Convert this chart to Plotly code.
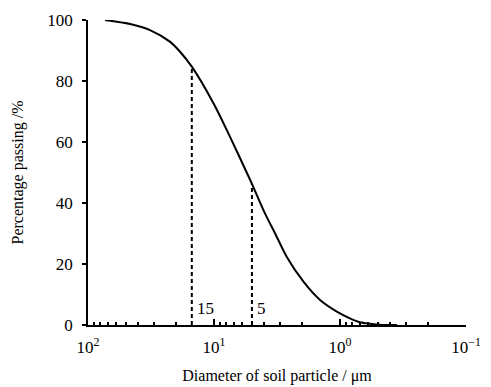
import numpy as np
import plotly.graph_objects as go

# Data
diameter_um = [73.3, 46.4, 32.2, 22.4, 18.6, 15.0, 10.1, 7.46, 5.5, 5.0, 3.94, 3.28, 2.65, 1.95, 1.44, 1.06, 0.834, 0.694, 0.578, 0.464, 0.353]
passing_pct = [100.0, 98.7, 96.7, 92.9, 89.6, 84.7, 72.7, 61.7, 50.0, 46.3, 36.6, 30.1, 22.4, 14.2, 8.2, 4.4, 2.2, 0.9, 0.4, 0.0, 0.0]

marker_d = [15, 5]
marker_p = [84.7, 46.3]
marker_labels = ["15", "5"]

x_tickvals = [100, 10, 1, 0.1]
x_ticktext = ["10<sup>2</sup>", "10<sup>1</sup>", "10<sup>0</sup>", "10<sup>\u22121</sup>"]
y_tickvals = [0, 20, 40, 60, 80, 100]

FONT = "Liberation Serif, DejaVu Serif, serif"

fig = go.Figure()
for d, p in zip(marker_d, marker_p):
    fig.add_trace(go.Scatter(x=[d, d], y=[0, p], mode="lines",
                             line=dict(color="black", width=2, dash="4px,3px"),
                             hoverinfo="skip", showlegend=False))
fig.add_trace(go.Scatter(x=diameter_um, y=passing_pct, mode="lines",
                         line=dict(color="black", width=2, shape="spline", smoothing=0.8),
                         showlegend=False))

for d, lab in zip(marker_d, marker_labels):
    fig.add_annotation(x=np.log10(d), y=0, yshift=17, xshift=3, text=lab, showarrow=False,
                       xanchor="left", yanchor="middle", font=dict(family=FONT, size=17, color="black"))

fig.update_layout(
    width=491, height=387,
    margin=dict(l=88, r=25, t=20, b=62),
    paper_bgcolor="white", plot_bgcolor="white",
    font=dict(family=FONT, size=17, color="black"),
    xaxis=dict(
        type="log", range=[2, -1], autorange=False, automargin=False,
        tickvals=x_tickvals, ticktext=x_ticktext,
        ticks="inside", ticklen=6, tickwidth=1.5, tickcolor="black",
        minor=dict(ticks="inside", ticklen=3, tickwidth=1.5, tickcolor="black", dtick="D1", showgrid=False),
        showline=True, linecolor="black", linewidth=1.5,
        showgrid=False, zeroline=False, ticklabelstandoff=6,
        tickfont=dict(family=FONT, size=17),
        title=dict(text="Diameter of soil particle / \u03bcm", font=dict(family=FONT, size=16), standoff=14),
    ),
    yaxis=dict(
        range=[0, 100], autorange=False, automargin=False,
        tickvals=y_tickvals,
        ticks="outside", ticklen=4, tickwidth=1.5, tickcolor="black",
        showline=True, linecolor="black", linewidth=1.5,
        showgrid=False, zeroline=False, ticklabelstandoff=6,
        tickfont=dict(family=FONT, size=17),
        title=dict(text="Percentage passing /%", font=dict(family=FONT, size=16), standoff=20),
    ),
)

fig.write_html("out.html")
